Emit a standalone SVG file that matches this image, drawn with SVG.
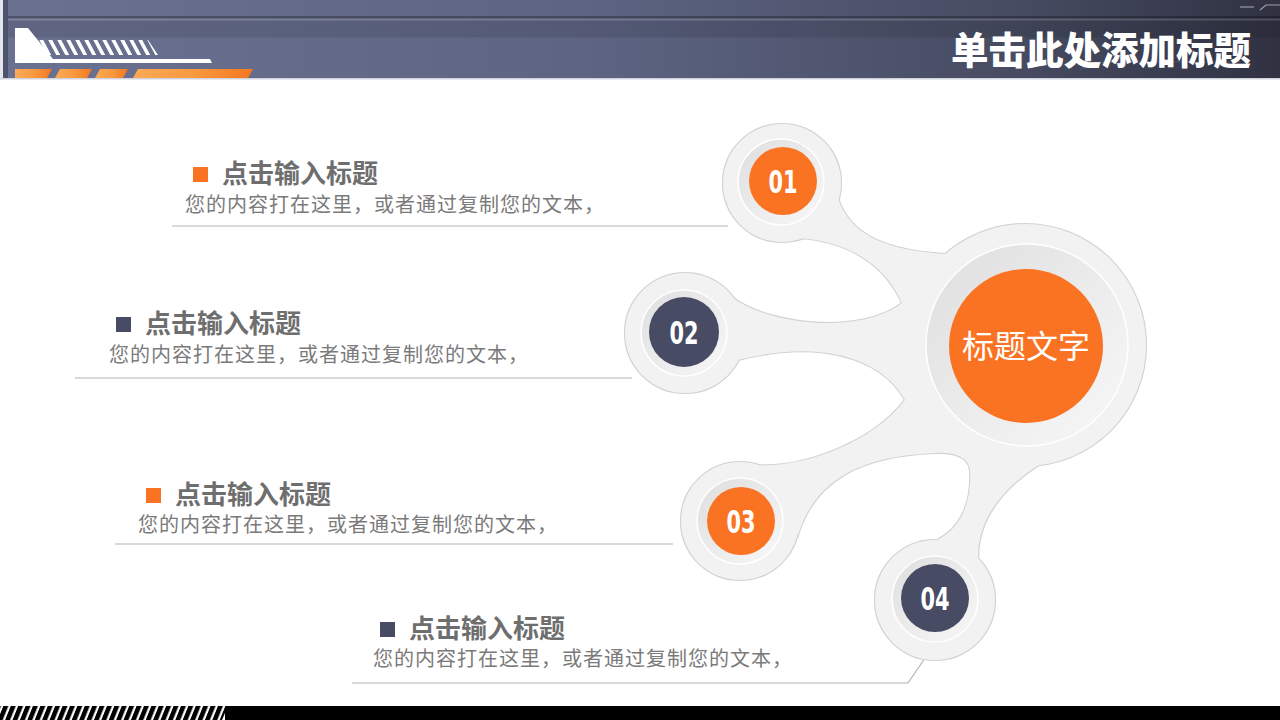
<svg xmlns="http://www.w3.org/2000/svg" width="1280" height="720" viewBox="0 0 1280 720">
<defs>
<linearGradient id="hdr" x1="0" y1="0" x2="1" y2="0">
<stop offset="0" stop-color="#6b7291"/>
<stop offset="0.45" stop-color="#5e6583"/>
<stop offset="0.8" stop-color="#464b61"/>
<stop offset="1" stop-color="#303242"/>
</linearGradient>
<linearGradient id="org" x1="0" y1="0" x2="1" y2="0">
<stop offset="0" stop-color="#fba956"/>
<stop offset="0.5" stop-color="#f89a40"/>
<stop offset="1" stop-color="#f47620"/>
</linearGradient>
<linearGradient id="ring" x1="0" y1="0" x2="1" y2="1">
<stop offset="0" stop-color="#dedede"/>
<stop offset="0.6" stop-color="#eeeeee"/>
<stop offset="1" stop-color="#f8f8f8"/>
</linearGradient>
<pattern id="hatchTop" width="9" height="20" patternUnits="userSpaceOnUse" patternTransform="skewX(28)">
<rect x="0" y="0" width="4" height="20" fill="#ffffff"/>
</pattern>
<pattern id="hatchBot" width="7.4" height="20" patternUnits="userSpaceOnUse" patternTransform="skewX(-22)">
<rect x="0" y="0" width="7.4" height="20" fill="#000000"/>
<rect x="5" y="0" width="2.4" height="20" fill="#ffffff"/>
</pattern>
<style>
.blobS{fill:none;stroke:#d2d2d2;stroke-width:2.2}
.blobF{fill:#f2f2f2;stroke:none}
.ring{fill:url(#ring);stroke:#ffffff;stroke-width:1.5}
.orange{fill:#fa7322}
.dark{fill:#474b63}
.num{font-family:"DejaVu Sans Condensed","Liberation Sans Narrow","DejaVu Sans",sans-serif;font-weight:bold;font-size:29px;fill:#ffffff;text-anchor:middle}
.ttl{font-family:"Noto Sans CJK SC","Noto Sans",sans-serif;font-weight:bold;font-size:26px;fill:#6e6e6e}
.body{font-family:"Noto Sans CJK SC","Noto Sans",sans-serif;font-size:20px;letter-spacing:1px;fill:#7a7a7a}
.uline{fill:none;stroke:#b4b4b4;stroke-width:1.2}
</style>
</defs>

<rect x="0" y="0" width="1280" height="720" fill="#ffffff"/>

<g id="header">
<rect x="0" y="0" width="1280" height="78" fill="url(#hdr)"/>
<rect x="0" y="16" width="1280" height="2.5" fill="#000000" opacity="0.28"/>
<rect x="0" y="18.5" width="1280" height="2" fill="#ffffff" opacity="0.14"/>
<rect x="0" y="20.5" width="1280" height="17" fill="#000000" opacity="0.1"/>
<rect x="0" y="78" width="1280" height="1.5" fill="#cfd3e0"/>
<rect x="0" y="0" width="3" height="78" fill="#e4e6ee"/>
<rect x="3" y="0" width="5" height="78" fill="#4d536b"/>
<line x1="1240" y1="7" x2="1254" y2="7" stroke="#9a9cab" stroke-width="1.2"/>
<polyline points="1260,10 1266,5 1280,5" fill="none" stroke="#9a9cab" stroke-width="1.2"/>
<polyline points="1080,70 1095,62 1240,62" fill="none" stroke="#6a6e82" stroke-width="1" opacity="0.5"/>
<polygon points="15,28 28,28 53,59 210,59 212,63 15,63" fill="#ffffff"/>
<polygon points="36,40 148,40 158,55 49,55" fill="url(#hatchTop)"/>
<polygon points="15,69 52,69 47,78 15,78" fill="url(#org)"/>
<polygon points="60,69 92,69 87,78 55,78" fill="url(#org)"/>
<polygon points="100,69 128,69 123,78 95,78" fill="url(#org)"/>
<polygon points="138,69 253,69 248,78 133,78" fill="url(#org)"/>
<text x="1251" y="64" text-anchor="end" font-family="Noto Sans CJK SC, sans-serif" font-weight="900" font-size="37.5" fill="#ffffff">单击此处添加标题</text>
</g>

<g id="footer">
<rect x="225" y="706" width="1055" height="14" fill="#000000"/>
<polygon points="0,706 228,706 222,720 0,720" fill="url(#hatchBot)"/>
</g>

<g id="connectors">
<path class="uline" d="M172,226 H728"/>
<path class="uline" d="M75,378 H632"/>
<path class="uline" d="M115,544 H673"/>
<path class="uline" d="M352,683 H908 L925,658"/>
</g>

<g id="web">
<g>
<path class="blobS" d="M838,198 C850,235 885,250 945,254 L1040,464 C1000,490 978,520 978,558 L937,540 C962,528 972,500 970,470 C968,455 950,452 935,453 C860,456 815,480 798,535 L757,465 C800,468 870,445 905,400 C880,355 815,340 738,360 L733,298 C770,325 860,335 902,303 C885,265 850,242 800,238 Z"/>
<circle class="blobS" cx="782" cy="183" r="59"/>
<circle class="blobS" cx="685" cy="333" r="60"/>
<circle class="blobS" cx="740" cy="521" r="59"/>
<circle class="blobS" cx="935" cy="600" r="60"/>
<circle class="blobS" cx="1025" cy="345" r="121"/>
</g>
<g>
<path class="blobF" d="M838,198 C850,235 885,250 945,254 L1040,464 C1000,490 978,520 978,558 L937,540 C962,528 972,500 970,470 C968,455 950,452 935,453 C860,456 815,480 798,535 L757,465 C800,468 870,445 905,400 C880,355 815,340 738,360 L733,298 C770,325 860,335 902,303 C885,265 850,242 800,238 Z"/>
<circle class="blobF" cx="782" cy="183" r="59"/>
<circle class="blobF" cx="685" cy="333" r="60"/>
<circle class="blobF" cx="740" cy="521" r="59"/>
<circle class="blobF" cx="935" cy="600" r="60"/>
<circle class="blobF" cx="1025" cy="345" r="121"/>
</g>
</g>

<g id="center">
<circle class="ring" cx="1027" cy="345" r="101"/>
<circle class="orange" cx="1026" cy="346" r="77"/>
<text x="1026" y="358" text-anchor="middle" font-family="Noto Sans CJK SC, sans-serif" font-size="32" fill="#ffffff">标题文字</text>
</g>

<g id="node01">
<circle class="ring" cx="781" cy="182" r="43"/>
<circle class="orange" cx="783" cy="181" r="34"/>
<text class="num" transform="translate(783,193) scale(0.8,1.12)">01</text>
</g>
<g id="node02">
<circle class="ring" cx="684" cy="333" r="43"/>
<circle class="dark" cx="684" cy="332" r="35"/>
<text class="num" transform="translate(684,344) scale(0.8,1.12)">02</text>
</g>
<g id="node03">
<circle class="ring" cx="740" cy="521" r="43"/>
<circle class="orange" cx="741" cy="521" r="34"/>
<text class="num" transform="translate(741,533) scale(0.8,1.12)">03</text>
</g>
<g id="node04">
<circle class="ring" cx="935" cy="599" r="43"/>
<circle class="dark" cx="935" cy="598" r="34"/>
<text class="num" transform="translate(935,610) scale(0.8,1.12)">04</text>
</g>

<g id="item1">
<rect x="193" y="167" width="15" height="15" fill="#fa7322"/>
<text class="ttl" x="222" y="183">点击输入标题</text>
<text class="body" x="185" y="212">您的内容打在这里，或者通过复制您的文本，</text>
</g>
<g id="item2">
<rect x="116" y="317" width="15" height="15" fill="#474b63"/>
<text class="ttl" x="145" y="333">点击输入标题</text>
<text class="body" x="109" y="362">您的内容打在这里，或者通过复制您的文本，</text>
</g>
<g id="item3">
<rect x="146" y="488" width="15" height="15" fill="#fa7322"/>
<text class="ttl" x="175" y="504">点击输入标题</text>
<text class="body" x="138" y="532">您的内容打在这里，或者通过复制您的文本，</text>
</g>
<g id="item4">
<rect x="380" y="622" width="15" height="15" fill="#474b63"/>
<text class="ttl" x="409" y="638">点击输入标题</text>
<text class="body" x="373" y="666">您的内容打在这里，或者通过复制您的文本，</text>
</g>
</svg>
